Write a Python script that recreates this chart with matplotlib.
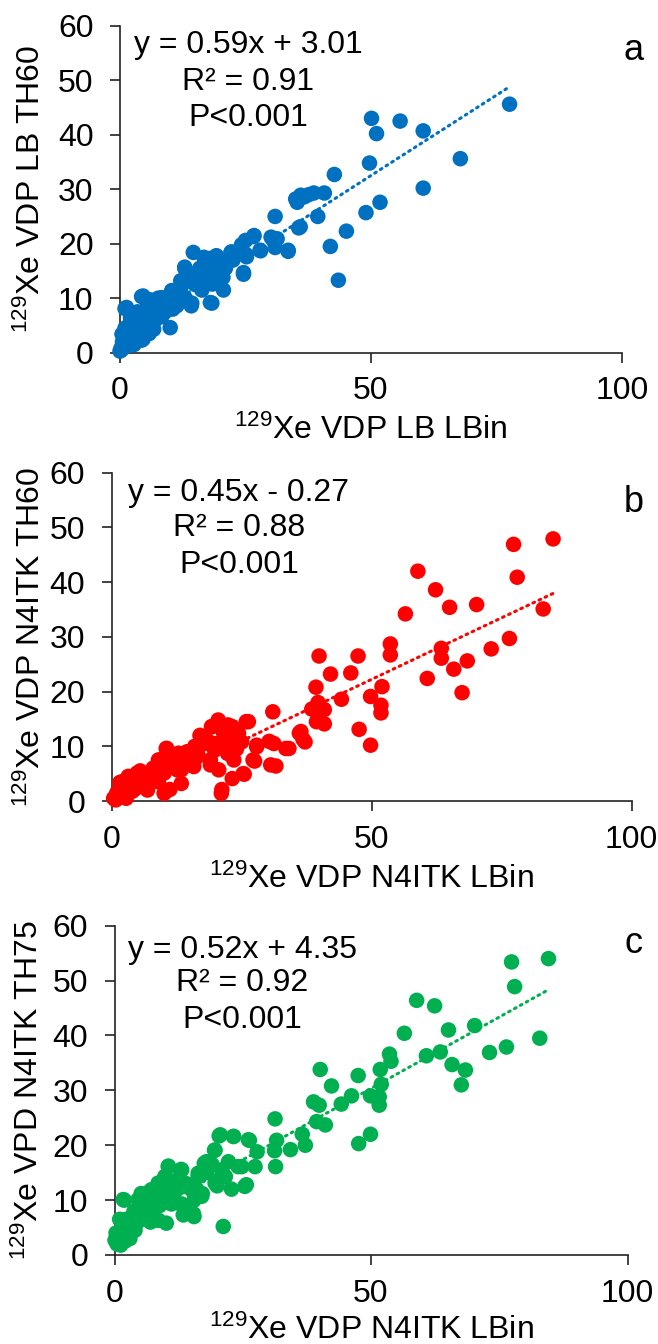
import matplotlib
matplotlib.use("Agg")
import matplotlib.pyplot as plt
import numpy as np

plt.rcParams['font.family'] = ['Liberation Sans', 'DejaVu Sans']
plt.rcParams['mathtext.fontset'] = 'custom'
plt.rcParams['mathtext.rm'] = 'Liberation Sans'
plt.rcParams['mathtext.it'] = 'Liberation Sans'

# ---------------- data ----------------
a_x = [77.6, 50.1, 55.8, 51.1, 60.4, 67.8, 49.7, 42.7, 60.4, 51.8, 49.0, 40.7, 35.3, 36.0, 37.6, 38.6, 36.7, 35.0,
       30.9, 39.4, 35.6, 45.1, 41.9, 43.5, 33.5, 30.9, 31.3, 30.1, 26.7, 25.0, 28.0, 24.6, 22.1, 21.7, 25.0, 19.2,
       14.6, 16.7, 19.6, 20.5, 18.4, 18.0, 12.9, 14.2, 12.1, 16.3, 14.2, 11.3, 10.3, 9.6, 10.0, 7.1, 4.6, 5.4, 8.3,
       6.7, 4.6, 1.3, 2.1, 0.4, 0.0,
       24.2, 26.6, 25.2, 27.9, 24.6, 30.5, 33.5, 35.9, 22.2, 15.9, 17.9, 12.9, 13.9, 12.6, 16.3, 19.9, 20.6, 18.3,
       14.3, 11.6, 10.3, 8.6, 8.3, 6.6, 4.6, 6.0, 7.6, 4.3, 3.0, 2.0, 1.0, 1.3, 0.7, 4.3,
       0.2, 0.5, 1.0, 1.5, 2.5, 3.0, 3.5, 5.0, 5.5, 6.5, 7.0, 8.0, 9.0, 10.5, 11.0, 12.0, 13.0, 15.0, 16.0, 17.0,
       18.0, 19.0, 20.0, 21.0, 22.5, 2.0, 1.0, 3.5, 0.3, 0.8, 2.8, 5.8]
a_y = [45.6, 43.0, 42.5, 40.2, 40.7, 35.6, 34.8, 32.7, 30.2, 27.6, 25.7, 29.3, 27.6, 28.9, 29.0, 29.3, 28.6, 28.2,
       25.0, 25.0, 22.9, 22.3, 19.5, 13.3, 18.6, 19.3, 20.9, 21.2, 21.5, 20.6, 18.7, 14.4, 18.4, 16.9, 18.1, 17.8,
       18.4, 17.5, 15.7, 13.8, 12.6, 9.2, 15.7, 13.8, 13.2, 12.0, 8.6, 8.6, 11.4, 9.5, 4.6, 9.5, 10.4, 8.3, 10.1,
       4.3, 2.5, 8.3, 6.4, 3.4, 0.3,
       19.8, 21.3, 17.6, 18.8, 14.7, 20.7, 18.8, 23.1, 18.5, 15.5, 17.3, 15.5, 13.9, 12.7, 11.5, 13.9, 11.5, 9.1,
       9.1, 9.1, 10.9, 8.4, 6.6, 5.4, 6.0, 9.7, 10.0, 10.3, 4.2, 5.4, 8.1, 2.9, 1.4, 2.3,
       0.8, 2.0, 1.0, 3.5, 2.0, 6.5, 3.0, 5.0, 7.0, 7.5, 6.0, 8.0, 7.5, 8.0, 10.5, 11.5, 10.0, 12.5, 14.0, 13.0,
       15.0, 14.0, 16.5, 15.5, 17.0, 3.0, 4.5, 7.5, 0.5, 2.5, 1.5, 3.5]

b_x = [84.9, 77.3, 78.0, 83.0, 76.5, 58.9, 62.3, 65.0, 70.2, 56.5, 73.0, 63.4, 63.4, 68.4, 65.8, 60.7, 67.4, 53.6,
       53.6, 47.4, 39.9, 46.0, 42.1, 52.0, 49.8, 39.3, 44.2, 51.8, 51.8, 39.7, 38.5, 40.9, 39.4, 40.9, 47.6, 49.8,
       31.0, 36.4, 36.8, 37.2, 34.1, 31.2, 31.6, 27.9, 27.5, 26.3, 25.5, 23.2, 21.1, 20.5, 19.4, 23.2, 24.4, 22.3,
       17.8, 19.8, 22.3, 19.0, 16.6, 14.2, 15.8, 12.6, 13.4, 10.5, 13.0, 13.4, 9.3, 10.1, 10.1, 7.7, 6.9, 4.9, 3.6,
       2.0, 2.8, 0.4,
       19.2, 22.4, 25.9, 17.6, 10.6, 12.8, 9.0, 13.2, 16.4, 15.1, 5.5, 4.2, 1.6, 6.7, 2.9, 11.2, 21.2, 22.2, 23.5,
       20.6, 19.0, 27.2, 27.9, 25.3, 30.6, 33.5, 30.3, 36.1,
       1.0, 1.5, 2.2, 3.0, 3.5, 4.0, 5.0, 5.5, 6.0, 6.5, 7.0, 8.0, 8.5, 9.0, 11.0, 12.0, 14.5, 16.0, 17.0, 18.5,
       20.0, 21.5, 22.0, 23.0, 24.0, 25.0, 0.8, 1.8, 4.5, 3.2]
b_y = [47.9, 46.9, 40.9, 35.1, 29.7, 42.0, 38.6, 35.4, 35.9, 34.2, 27.8, 27.9, 26.1, 25.6, 24.1, 22.4, 19.8, 28.7,
       26.7, 26.5, 26.5, 23.4, 23.2, 20.9, 19.1, 20.8, 18.6, 17.5, 16.1, 18.0, 16.8, 16.7, 14.5, 14.1, 13.1, 10.2,
       16.3, 12.7, 11.3, 10.8, 9.6, 10.5, 6.4, 10.2, 7.3, 14.5, 4.9, 4.1, 1.4, 14.8, 13.6, 13.6, 12.4, 11.8,
       10.5, 9.3, 8.7, 7.5, 8.4, 7.5, 6.3, 5.7, 3.2, 9.6, 8.7, 5.7, 7.5, 5.1, 1.4, 4.4, 2.0, 5.1, 3.2,
       3.5, 0.5, 0.5,
       13.6, 13.9, 14.5, 10.5, 9.6, 8.7, 7.5, 6.0, 8.0, 6.6, 5.5, 4.0, 3.4, 2.8, 2.1, 2.1, 2.1, 9.2, 7.5,
       5.7, 6.6, 7.5, 9.9, 5.0, 6.6, 9.6, 10.9, 12.4,
       1.5, 0.8, 2.5, 1.2, 2.8, 1.8, 3.0, 4.2, 3.8, 5.0, 3.0, 6.0, 4.8, 3.5, 6.8, 7.8, 9.0, 10.0, 12.0, 11.0,
       10.5, 12.5, 10.0, 11.0, 9.5, 10.8, 0.2, 1.8, 2.2, 4.5]

c_x = [84.6, 77.4, 78.0, 82.9, 76.4, 73.1, 58.9, 62.4, 70.2, 65.1, 56.5, 60.8, 63.5, 65.8, 68.4, 67.6, 53.6, 53.9,
       51.8, 52.0, 47.5, 40.1, 42.3, 46.2, 44.2, 49.9, 51.6, 51.6, 38.8, 39.9, 39.4, 41.1, 49.9, 47.6, 31.3, 36.6,
       37.2, 34.3, 31.6, 31.2, 31.4, 27.8, 26.3, 23.2, 20.4, 24.1, 25.7, 22.8, 20.0, 21.6, 19.5, 17.5, 16.3, 21.2,
       17.1, 15.5, 13.4, 15.5, 13.4, 13.0, 10.5, 13.0, 10.1, 8.5, 10.1, 1.9, 5.2, 7.2,
       20.6, 23.2, 26.1, 19.6, 17.9, 10.5, 13.1, 8.6, 9.8, 6.6, 4.6, 1.7, 5.9, 4.0, 2.0, 0.7, 0.1, 8.6, 11.1, 13.1,
       16.3, 15.0, 17.0, 13.1, 15.4, 19.6, 21.5, 20.9, 22.2, 24.8, 25.4, 27.4, 7.9, 7.2,
       0.5, 1.0, 1.5, 2.5, 3.0, 3.5, 4.5, 5.0, 6.0, 6.5, 7.5, 8.0, 9.0, 9.5, 11.5, 12.0, 14.0, 16.0, 18.0, 19.0,
       2.0, 3.0, 4.0, 1.2, 3.8, 5.5, 6.8, 2.2, 4.8, 7.0, 8.8, 10.8, 12.5, 0.3, 1.0]
c_y = [54.0, 53.4, 48.9, 39.5, 37.9, 36.9, 46.4, 45.4, 41.8, 41.0, 40.4, 36.3, 37.0, 34.7, 33.7, 31.0, 36.6, 35.3,
       33.8, 31.1, 32.7, 33.8, 30.8, 29.0, 27.5, 29.0, 28.8, 27.3, 27.9, 27.3, 24.3, 23.7, 22.0, 20.3, 24.8, 22.0,
       20.0, 19.2, 20.9, 19.0, 16.1, 18.8, 20.9, 21.6, 21.7, 16.1, 12.8, 12.0, 12.6, 14.3, 19.1, 16.7, 14.9, 5.2,
       11.2, 10.0, 8.8, 7.0, 7.3, 15.6, 16.2, 12.4, 13.1, 13.1, 5.8, 10.0, 11.2, 10.0,
       21.9, 21.6, 21.0, 19.1, 17.0, 16.1, 15.5, 13.0, 14.3, 10.7, 10.1, 10.1, 8.7, 6.9, 5.7, 3.9, 2.7, 6.3, 9.3, 12.5,
       14.3, 11.9, 10.7, 9.3, 7.5, 13.1, 14.3, 15.5, 17.0, 16.1, 12.5, 16.1, 10.1, 11.9,
       2.0, 3.0, 4.5, 4.0, 5.5, 7.0, 6.0, 8.0, 7.5, 9.5, 8.5, 11.0, 9.5, 12.0, 11.0, 13.5, 13.0, 12.0, 15.0, 16.5,
       2.5, 3.0, 4.5, 1.8, 8.0, 9.0, 11.5, 6.5, 7.0, 6.0, 9.0, 11.5, 14.0, 4.0, 6.5]

slopes = [0.59, 0.45, 0.52]
intercepts = [3.01, -0.27, 4.35]
eq_labels = ["y = 0.59x + 3.01", "y = 0.45x - 0.27", "y = 0.52x + 4.35"]
r2_labels = ["R\u00b2 = 0.91", "R\u00b2 = 0.88", "R\u00b2 = 0.92"]
p_labels = ["P<0.001", "P<0.001", "P<0.001"]
panel_letters = ["a", "b", "c"]
xlabels = [r"$\mathregular{^{129}}$Xe VDP LB LBin", r"$\mathregular{^{129}}$Xe VDP N4ITK LBin",
           r"$\mathregular{^{129}}$Xe VDP N4ITK LBin"]
ylabels = [r"$\mathregular{^{129}}$Xe VDP LB TH60", r"$\mathregular{^{129}}$Xe VDP N4ITK TH60",
           r"$\mathregular{^{129}}$Xe VPD N4ITK TH75"]
xticks = [0, 50, 100]
yticks = [0, 10, 20, 30, 40, 50, 60]

xs = [a_x, b_x, c_x]
ys = [a_y, b_y, c_y]
colors = ["#0070C0", "#FF0000", "#00B050"]

# ---------------- layout ----------------
W, H = 658, 1344
fig = plt.figure(figsize=(W / 100, H / 100), dpi=100)
rects = [
    (120 / W, 1 - 352.7 / H, 502 / W, 327 / H),
    (111.6 / W, 1 - 801 / H, 520 / W, 328.3 / H),
    (114.5 / W, 1 - 1255 / H, 513 / W, 329.3 / H),
]
text_x = [0.255, 0.245, 0.249]
text_y = [(0.941, 0.828, 0.718), (0.939, 0.832, 0.719), (0.926, 0.826, 0.714)]
letter_pos = [(1.024, 0.925), (1.005, 0.908), (1.012, 0.947)]
ylabel_x = [-0.145, -0.125, -0.135]
xlabel_y = [-0.19, -0.19, -0.18]

FS = 23
for i in range(3):
    ax = fig.add_axes(rects[i])
    x = np.array(xs[i])
    y = np.array(ys[i])
    ax.scatter(x, y, s=125, color=colors[i], edgecolors='none', zorder=3, clip_on=False)
    xl = np.array([x.min(), x.max()])
    ax.plot(xl, slopes[i] * xl + intercepts[i], linestyle=(0, (0.6, 1.6)), dash_capstyle='round',
            color=colors[i], lw=2.2, zorder=2)
    ax.set_xlim(0, 100)
    ax.set_ylim(0, 60)
    ax.set_xticks(xticks)
    ax.set_yticks(yticks)
    for s in ['top', 'right']:
        ax.spines[s].set_visible(False)
    for s in ['left', 'bottom']:
        ax.spines[s].set_linewidth(1.2)
        ax.spines[s].set_color('#222222')
    ax.tick_params(axis='both', direction='out', length=7, width=1.2, color='#222222', labelsize=FS)
    ax.tick_params(axis='x', pad=10)
    ax.tick_params(axis='y', pad=12)
    ax.set_xlabel(xlabels[i], fontsize=FS)
    ax.set_ylabel(ylabels[i], fontsize=FS)
    ax.yaxis.set_label_coords(ylabel_x[i], 0.5)
    ax.xaxis.set_label_coords(0.5, xlabel_y[i])
    for txt, ty in zip([eq_labels[i], r2_labels[i], p_labels[i]], text_y[i]):
        ax.text(text_x[i], ty, txt, transform=ax.transAxes, ha='center', va='center', fontsize=FS)
    ax.text(letter_pos[i][0], letter_pos[i][1], panel_letters[i], transform=ax.transAxes,
            ha='center', va='center', fontsize=26)

fig.savefig("out.png", dpi=100)
